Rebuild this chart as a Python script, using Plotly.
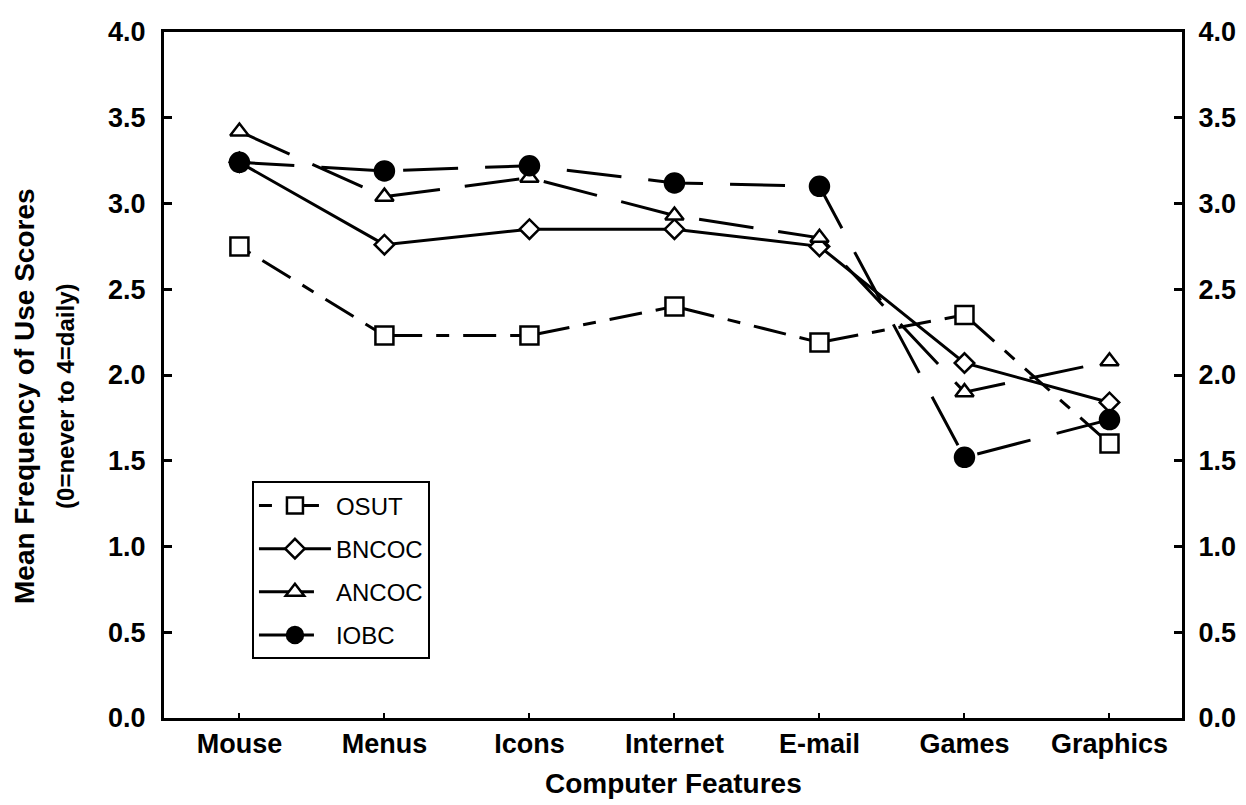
import plotly.graph_objects as go

categories = ["Mouse", "Menus", "Icons", "Internet", "E-mail", "Games", "Graphics"]
osut = [2.75, 2.23, 2.23, 2.40, 2.19, 2.35, 1.60]
bncoc = [3.24, 2.76, 2.85, 2.85, 2.75, 2.07, 1.84]
ancoc = [3.42, 3.04, 3.15, 2.93, 2.80, 1.90, 2.08]
iobc = [3.24, 3.19, 3.22, 3.12, 3.10, 1.52, 1.74]
y_ticks = [0.0, 0.5, 1.0, 1.5, 2.0, 2.5, 3.0, 3.5, 4.0]

xs = list(range(len(categories)))
FONT = "Liberation Sans, Arial, sans-serif"

series = [
    ("OSUT", osut, "square", 18, "white", "13px,14px,33px,14px"),
    ("BNCOC", bncoc, "diamond", 15, "white", "solid"),
    ("ANCOC", ancoc, "triangle-up", 16, "white", "55px,25px"),
    ("IOBC", iobc, "circle", 19, "black", "55px,27px"),
]

fig = go.Figure()
for i, (name, vals, sym, size, fill, dash) in enumerate(series):
    fig.add_trace(go.Scatter(
        x=xs, y=vals, name=name, mode="lines+markers",
        legendgroup=f"g{i}",
        line=dict(color="black", width=3, dash=dash),
        marker=dict(symbol=sym, size=size, color=fill,
                    line=dict(color="black", width=2.5)),
    ))

# invisible trace so the right-hand axis is drawn
fig.add_trace(go.Scatter(x=[xs[0]], y=[y_ticks[0]], yaxis="y2", mode="markers",
                         marker=dict(opacity=0), showlegend=False, hoverinfo="skip"))

tickfont = dict(family=FONT, size=27, color="black", weight="bold")

fig.update_layout(
    width=1238, height=797,
    margin=dict(l=156, r=64, t=24, b=87, autoexpand=False),
    paper_bgcolor="white", plot_bgcolor="white",
    font=dict(family=FONT, color="black"),
    showlegend=True,
    legend=dict(
        x=0.0864, y=0.345, xanchor="left", yanchor="top",
        bordercolor="black", borderwidth=2, bgcolor="white",
        font=dict(family=FONT, size=24, color="black"),
        tracegroupgap=9, itemwidth=72,
    ),
    xaxis=dict(
        range=[-0.52, 6.5], tickmode="array", tickvals=xs, ticktext=categories,
        showgrid=False, zeroline=False, automargin=False,
        showline=True, linecolor="black", linewidth=3, mirror=True,
        ticks="inside", ticklen=5, tickwidth=2, tickcolor="black",
        tickfont=tickfont,
        ticklabelstandoff=0,
    ),
    yaxis=dict(
        range=[0, 4], tickmode="array", tickvals=y_ticks,
        ticktext=[f"{v:.1f}" for v in y_ticks],
        showgrid=False, zeroline=False, automargin=False,
        showline=True, linecolor="black", linewidth=3,
        ticks="inside", ticklen=8, tickwidth=2.5, tickcolor="black",
        tickfont=tickfont,
        ticklabelstandoff=10,
    ),
    yaxis2=dict(
        range=[0, 4], tickmode="array", tickvals=y_ticks,
        ticktext=[f"{v:.1f}" for v in y_ticks],
        overlaying="y", side="right",
        showgrid=False, zeroline=False, automargin=False,
        showline=True, linecolor="black", linewidth=3,
        ticks="inside", ticklen=8, tickwidth=2.5, tickcolor="black",
        tickfont=tickfont,
        ticklabelstandoff=8,
    ),
    annotations=[
        dict(text="<b>Computer Features</b>", xref="paper", yref="paper",
             x=0.5, y=0, xanchor="center", yanchor="middle", yshift=-65,
             showarrow=False, font=dict(family=FONT, size=28, color="black")),
        dict(text="<b>Mean Frequency of Use Scores</b>", xref="paper", yref="paper",
             x=0, y=0.468, xanchor="center", yanchor="middle", xshift=-139,
             textangle=-90, showarrow=False,
             font=dict(family=FONT, size=28, color="black")),
        dict(text="<b>(0=never to 4=daily)</b>", xref="paper", yref="paper",
             x=0, y=0.468, xanchor="center", yanchor="middle", xshift=-98,
             textangle=-90, showarrow=False,
             font=dict(family=FONT, size=24, color="black")),
    ],
)

fig.write_html("out.html")
